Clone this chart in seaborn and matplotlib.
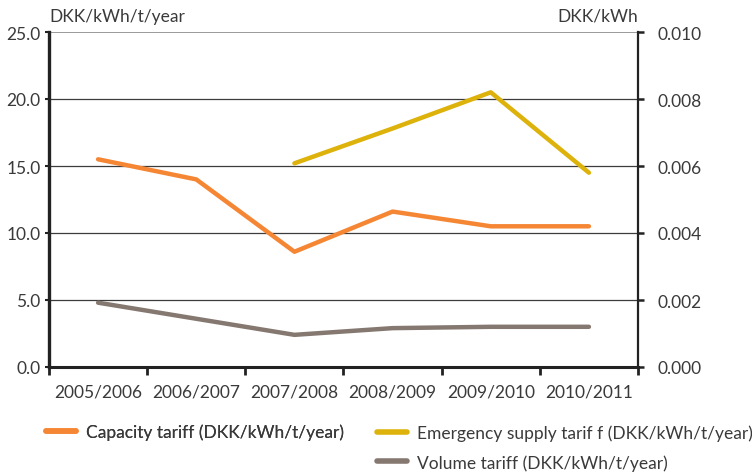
import matplotlib
matplotlib.use("Agg")
import matplotlib.pyplot as plt
from matplotlib.lines import Line2D
from matplotlib.ticker import FormatStrFormatter, FixedLocator, NullFormatter
import numpy as np
import pandas as pd
import seaborn as sns

# Gas storage tariffs per storage year
years = ["2005/2006", "2006/2007", "2007/2008", "2008/2009", "2009/2010", "2010/2011"]
capacity_tariff = [15.5, 14.0, 8.6, 11.6, 10.5, 10.5]
emergency_tariff = [np.nan, np.nan, 15.2, 17.8, 20.5, 14.5]
volume_tariff = [4.8, 3.6, 2.4, 2.9, 3.0, 3.0]

series_names = [
    "Capacity tariff (DKK/kWh/t/year)",
    "Emergency supply tarif f (DKK/kWh/t/year)",
    "Volume tariff (DKK/kWh/t/year)",
]
colors = ["#F58634", "#DDB20A", "#857870"]

left_ticks = [0, 5, 10, 15, 20, 25]
right_ticks = [0.000, 0.002, 0.004, 0.006, 0.008, 0.010]

df = pd.DataFrame({
    "year": years * 3,
    "series": [series_names[0]] * 6 + [series_names[1]] * 6 + [series_names[2]] * 6,
    "value": capacity_tariff + emergency_tariff + volume_tariff,
}).dropna()

sns.set_theme(style="white")
plt.rcParams["font.family"] = ["Lato", "DejaVu Sans"]
text_color = "#3a3a3a"
fs = 12.5

fig = plt.figure(figsize=(7.52, 4.77), dpi=100)
ax = fig.add_axes([49 / 752, 1 - 368 / 477, (638 - 49) / 752, (368 - 33) / 477])

# horizontal reference lines
for v in left_ticks[1:-1]:
    ax.axhline(v, color="#3c3c3c", lw=0.9, zorder=1)
ax.axhline(25, color="#8a8a8a", lw=1.2, zorder=1)

sns.lineplot(data=df, x="year", y="value", hue="series", hue_order=series_names,
             palette=colors, linewidth=3.2, sort=False, legend=False, ax=ax,
             zorder=3, solid_capstyle="round")

ax.set_xlim(-0.5, len(years) - 0.5)
ax.set_ylim(0, 25)
ax.set_xlabel("")
ax.set_ylabel("")

# category boundaries carry the tick marks, labels sit at the centres
ax.xaxis.set_major_locator(FixedLocator(np.arange(-0.5, len(years), 1.0)))
ax.xaxis.set_major_formatter(NullFormatter())
ax.xaxis.set_minor_locator(FixedLocator(np.arange(len(years))))
ax.set_xticklabels(years, minor=True)
ax.tick_params(axis="x", which="major", direction="out", length=6, width=2,
               color="#222222", bottom=True)
ax.tick_params(axis="x", which="minor", length=0, pad=12, labelsize=fs,
               labelcolor=text_color, bottom=True)

ax.set_yticks(left_ticks)
ax.yaxis.set_major_formatter(FormatStrFormatter("%.1f"))
ax.tick_params(axis="y", direction="out", length=3, width=1.5, color="#222222",
               labelsize=fs, labelcolor=text_color, pad=3, left=True)

for side in ["top", "right"]:
    ax.spines[side].set_visible(False)
ax.spines["left"].set_color("#222222")
ax.spines["left"].set_linewidth(2.4)
ax.spines["bottom"].set_color("#222222")
ax.spines["bottom"].set_linewidth(2.2)

ax2 = ax.twinx()
ax2.set_ylim(0, 0.010)
ax2.set_yticks(right_ticks)
ax2.yaxis.set_major_formatter(FormatStrFormatter("%.3f"))
ax2.tick_params(axis="y", direction="out", length=4, width=1.8, color="#222222",
                labelsize=fs, labelcolor=text_color, pad=10, right=True)
for side in ["top", "left", "bottom"]:
    ax2.spines[side].set_visible(False)
ax2.spines["right"].set_color("#222222")
ax2.spines["right"].set_linewidth(1.6)

fig.text(49 / 752, 1 - 17 / 477, "DKK/kWh/t/year", ha="left", va="center",
         fontsize=fs, color=text_color)
fig.text(638 / 752, 1 - 17 / 477, "DKK/kWh", ha="right", va="center",
         fontsize=fs, color=text_color)

def handle(c):
    return Line2D([], [], color=c, lw=4, solid_capstyle="round")

legend_kw = dict(frameon=False, fontsize=fs, labelcolor=text_color,
                 handlelength=1.75, handletextpad=0.55, borderpad=0,
                 borderaxespad=0, labelspacing=0.75, loc="center left")

leg1 = fig.legend([handle(colors[0])], [series_names[0]],
                  bbox_to_anchor=(46 / 752, 1 - 433 / 477), **legend_kw)
fig.add_artist(leg1)
fig.legend([handle(colors[1]), handle(colors[2])], series_names[1:],
           bbox_to_anchor=(377 / 752, 1 - 448.5 / 477), **legend_kw)

fig.savefig("out.png", dpi=100)
